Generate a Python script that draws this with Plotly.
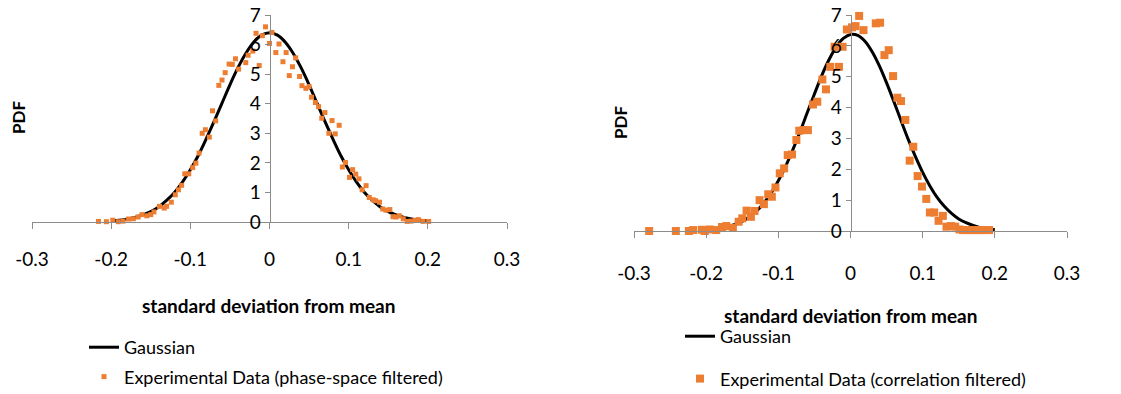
import plotly.graph_objects as go

# ---------------- data ----------------
tick_vals = [-0.3, -0.2, -0.1, 0.0, 0.1, 0.2, 0.3]
tick_text = ["-0.3", "-0.2", "-0.1", "0", "0.1", "0.2", "0.3"]
y_ticks = [0, 1, 2, 3, 4, 5, 6, 7]

gauss_x = [-0.20, -0.19, -0.18, -0.17, -0.16, -0.15, -0.14, -0.13, -0.12, -0.11,
           -0.10, -0.09, -0.08, -0.07, -0.06, -0.05, -0.04, -0.03, -0.02, -0.01,
           0.00, 0.01, 0.02, 0.03, 0.04, 0.05, 0.06, 0.07, 0.08, 0.09,
           0.10, 0.11, 0.12, 0.13, 0.14, 0.15, 0.16, 0.17, 0.18, 0.19, 0.20]

gauss_left_y = [0.04, 0.06, 0.10, 0.15, 0.24, 0.35, 0.51, 0.73, 1.00, 1.35,
                1.77, 2.25, 2.81, 3.40, 4.02, 4.64, 5.21, 5.70, 6.08, 6.32,
                6.40, 6.32, 6.08, 5.70, 5.21, 4.64, 4.02, 3.40, 2.81, 2.25,
                1.77, 1.35, 1.00, 0.73, 0.51, 0.35, 0.24, 0.15, 0.10, 0.06, 0.04]

gauss_right_y = [0.03, 0.05, 0.09, 0.14, 0.21, 0.31, 0.46, 0.65, 0.91, 1.23,
                 1.63, 2.09, 2.63, 3.21, 3.83, 4.44, 5.03, 5.54, 5.96, 6.24,
                 6.37, 6.34, 6.15, 5.81, 5.35, 4.80, 4.20, 3.58, 2.97, 2.41,
                 1.90, 1.46, 1.09, 0.80, 0.57, 0.39, 0.27, 0.18, 0.11, 0.07, 0.04]

phase_x = [-0.216, -0.206, -0.198, -0.191, -0.185, -0.178, -0.172, -0.166, -0.161, -0.155,
           -0.150, -0.146, -0.139, -0.133, -0.130, -0.124, -0.119, -0.115, -0.111, -0.107,
           -0.102, -0.097, -0.093, -0.089, -0.085, -0.081, -0.076, -0.072, -0.068, -0.064,
           -0.060, -0.056, -0.051, -0.047, -0.043, -0.039, -0.030, -0.027, -0.021, -0.017,
           -0.013, -0.009, -0.005, 0.000, 0.003, 0.008, 0.012, 0.017, 0.021, 0.025,
           0.029, 0.033, 0.038, 0.041, 0.046, 0.050, 0.053, 0.058, 0.062, 0.066,
           0.070, 0.075, 0.079, 0.083, 0.088, 0.092, 0.096, 0.101, 0.105, 0.109,
           0.113, 0.117, 0.122, 0.126, 0.131, 0.134, 0.139, 0.143, 0.147, 0.152,
           0.156, 0.160, 0.164, 0.169, 0.174, 0.179, 0.184, 0.188, 0.194, 0.201]
phase_y = [0.02, 0.01, 0.06, 0.01, 0.03, 0.10, 0.11, 0.17, 0.25, 0.21,
           0.25, 0.34, 0.53, 0.47, 0.53, 0.67, 0.92, 1.09, 1.24, 1.63,
           1.63, 1.84, 1.99, 2.33, 3.00, 3.12, 2.87, 3.76, 3.42, 4.62,
           4.80, 5.05, 5.34, 5.33, 5.52, 5.17, 5.39, 5.64, 5.78, 6.38,
           5.29, 6.30, 6.60, 6.04, 6.41, 5.73, 6.02, 5.42, 5.73, 4.95,
           5.25, 5.55, 4.92, 4.61, 4.52, 4.58, 4.22, 4.04, 3.90, 3.51,
           3.70, 3.00, 3.43, 2.98, 3.27, 1.86, 2.01, 1.51, 1.77, 1.62,
           1.46, 1.09, 1.23, 0.83, 0.75, 0.72, 0.67, 0.44, 0.40, 0.42,
           0.18, 0.17, 0.21, 0.11, 0.02, 0.03, 0.06, 0.08, 0.02, 0.02]

corr_x = [-0.279, -0.242, -0.224, -0.218, -0.206, -0.202, -0.195, -0.186, -0.178, -0.172,
          -0.163, -0.155, -0.150, -0.144, -0.138, -0.133, -0.126, -0.120, -0.114, -0.109,
          -0.104, -0.098, -0.092, -0.087, -0.081, -0.075, -0.071, -0.065, -0.059, -0.052,
          -0.046, -0.039, -0.034, -0.028, -0.022, -0.016, -0.011, -0.005, 0.002, 0.007,
          0.012, 0.018, 0.035, 0.041, 0.047, 0.053, 0.059, 0.065, 0.070, 0.076,
          0.087, 0.082, 0.093, 0.099, 0.105, 0.110, 0.116, 0.122, 0.128, 0.133,
          0.139, 0.145, 0.151, 0.156, 0.162, 0.168, 0.174, 0.179, 0.185, 0.192]
corr_y = [0.00, 0.00, 0.00, 0.03, 0.04, 0.00, 0.05, 0.03, 0.13, 0.16,
          0.10, 0.30, 0.41, 0.66, 0.46, 0.65, 1.00, 0.87, 1.19, 1.11,
          1.41, 1.87, 2.03, 2.46, 2.48, 2.95, 3.25, 3.27, 3.27, 4.10,
          4.19, 4.91, 4.59, 5.32, 5.97, 5.32, 5.97, 6.53, 6.60, 6.64,
          6.97, 6.51, 6.73, 6.75, 5.70, 5.86, 5.02, 4.32, 4.21, 3.60,
          2.73, 2.28, 1.78, 1.44, 1.04, 0.60, 0.60, 0.33, 0.49, 0.14,
          0.16, 0.14, 0.05, 0.03, 0.03, 0.03, 0.03, 0.03, 0.03, 0.03]

# ---------------- styling ----------------
W, H = 1121, 394
FONT = "Lato"
ORANGE = "#ED7D31"
AXIS_COLOR = "#8c8c8c"

def px_x(p):
    return p / W

def px_y(p):
    return 1 - p / H

lx = [px_x(32), px_x(507)]
ly = [px_y(222), px_y(15)]
rx = [px_x(634), px_x(1067)]
ry = [px_y(231), px_y(15)]

fig = go.Figure()

fig.add_trace(go.Scatter(x=gauss_x, y=gauss_left_y, mode="lines", name="Gaussian",
                         line=dict(color="black", width=3, shape="spline"),
                         xaxis="x", yaxis="y", legend="legend", legendgroup="g1"))
fig.add_trace(go.Scatter(x=phase_x, y=phase_y, mode="markers",
                         name="Experimental Data (phase-space filtered)",
                         marker=dict(symbol="square", size=5, color=ORANGE),
                         cliponaxis=False,
                         xaxis="x", yaxis="y", legend="legend", legendgroup="e1"))

fig.add_trace(go.Scatter(x=gauss_x, y=gauss_right_y, mode="lines", name="Gaussian",
                         line=dict(color="black", width=3, shape="spline"),
                         xaxis="x2", yaxis="y2", legend="legend2", legendgroup="g2"))
fig.add_trace(go.Scatter(x=corr_x, y=corr_y, mode="markers",
                         name="Experimental Data (correlation filtered)",
                         marker=dict(symbol="square", size=8, color=ORANGE),
                         cliponaxis=False,
                         xaxis="x2", yaxis="y2", legend="legend2", legendgroup="e2"))

xcommon = dict(range=[-0.3, 0.3], tickvals=tick_vals, ticktext=tick_text,
               showline=True, linecolor=AXIS_COLOR, linewidth=1,
               ticks="outside", ticklen=6, tickcolor=AXIS_COLOR,
               showgrid=False, zeroline=False, automargin=False,
               tickfont=dict(family=FONT, size=19, color="black"))
ycommon = dict(range=[0, 7], tickvals=y_ticks,
               showline=True, linecolor=AXIS_COLOR, linewidth=1,
               ticks="outside", ticklen=5, tickcolor=AXIS_COLOR,
               showgrid=False, zeroline=False, anchor="free", automargin=False,
               tickfont=dict(family=FONT, size=19, color="black"))

fig.update_layout(
    width=W, height=H,
    margin=dict(l=0, r=0, t=0, b=0, autoexpand=False),
    paper_bgcolor="white", plot_bgcolor="white",
    font=dict(family=FONT, size=18, color="black"),
    xaxis=dict(domain=lx, anchor="y", ticklabelstandoff=14, **xcommon),
    yaxis=dict(domain=ly, position=(lx[0] + lx[1]) / 2, **ycommon),
    xaxis2=dict(domain=rx, anchor="y2", ticklabelstandoff=19, **xcommon),
    yaxis2=dict(domain=ry, position=(rx[0] + rx[1]) / 2, **ycommon),
    legend=dict(x=px_x(84), y=px_y(329), xanchor="left", yanchor="top",
                traceorder="grouped", tracegroupgap=3,
                font=dict(family=FONT, size=18), bgcolor="rgba(0,0,0,0)"),
    legend2=dict(x=px_x(680), y=px_y(318), xanchor="left", yanchor="top",
                 traceorder="grouped", tracegroupgap=16,
                 font=dict(family=FONT, size=18), bgcolor="rgba(0,0,0,0)"),
    showlegend=True,
    annotations=[
        dict(text="<b>PDF</b>", x=px_x(18), y=px_y(118), xref="paper", yref="paper",
             xanchor="center", yanchor="middle",
             textangle=-90, showarrow=False, font=dict(family=FONT, size=17)),
        dict(text="<b>PDF</b>", x=px_x(620), y=px_y(123), xref="paper", yref="paper",
             xanchor="center", yanchor="middle",
             textangle=-90, showarrow=False, font=dict(family=FONT, size=17)),
        dict(text="<b>standard deviation from mean</b>", x=px_x(268), y=px_y(305),
             xref="paper", yref="paper", xanchor="center", yanchor="middle",
             showarrow=False, font=dict(family=FONT, size=19)),
        dict(text="<b>standard deviation from mean</b>", x=px_x(850), y=px_y(315),
             xref="paper", yref="paper", xanchor="center", yanchor="middle",
             showarrow=False, font=dict(family=FONT, size=19)),
    ],
)

fig.write_html("out.html")
